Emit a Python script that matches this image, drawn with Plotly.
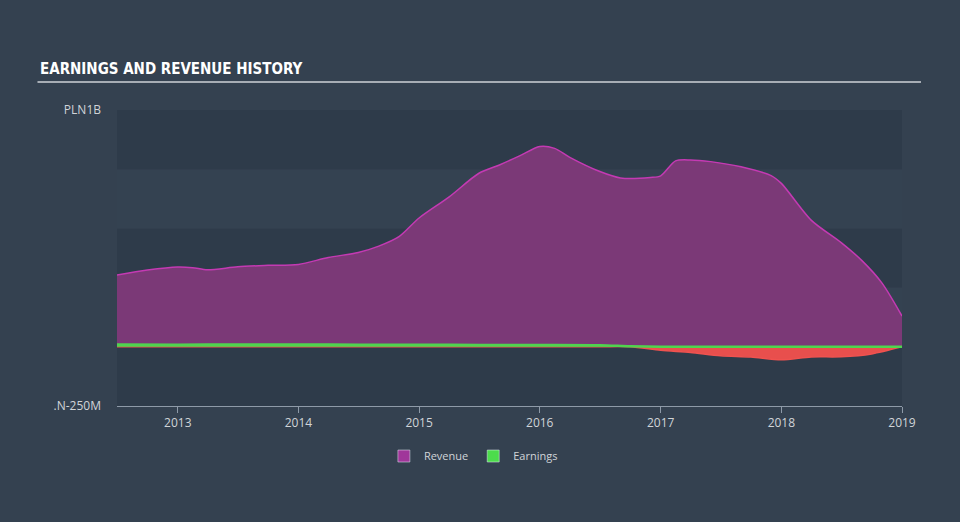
import plotly.graph_objects as go

# Revenue (PLN millions)
rev_dates = ["2012-07-01","2012-10-01","2013-01-01","2013-02-15","2013-04-01","2013-07-01",
             "2013-10-01","2014-01-01","2014-04-01","2014-07-01","2014-09-01","2014-11-01",
             "2015-01-01","2015-04-01","2015-07-01","2015-09-01","2015-11-01","2016-01-01",
             "2016-02-15","2016-04-01","2016-07-01","2016-09-01","2016-12-01","2017-01-01",
             "2017-02-15","2017-04-01","2017-06-01","2017-09-01","2017-12-01","2018-01-01",
             "2018-04-01","2018-07-01","2018-09-01","2018-11-01","2019-01-01"]
rev_vals = [303, 324, 337, 334, 325, 338, 344, 348, 377, 398, 425, 465,
            544, 632, 733, 768, 806, 846, 838, 800, 740, 713, 715, 722,
            785, 789, 782, 760, 723, 690, 535, 440, 365, 270, 130]

# Earnings (PLN millions)
earn_dates = ["2012-07-01","2013-01-01","2013-07-01","2014-01-01","2014-07-01","2015-01-01",
              "2015-07-01","2016-01-01","2016-07-01","2016-10-01","2017-01-01","2017-04-01",
              "2017-07-01","2017-10-01","2018-01-01","2018-04-01","2018-07-01","2018-10-01",
              "2019-01-01"]
earn_vals = [10, 9, 10, 10, 9, 9, 8, 8, 7, 2, -15, -24, -38, -43, -55, -43, -42, -30, 0]

y_ticks = [-250, 1000]
y_labels = [".N-250M", "PLN1B"]
x_ticks = ["2013-01-01","2014-01-01","2015-01-01","2016-01-01","2017-01-01","2018-01-01","2019-01-01"]
x_labels = ["2013","2014","2015","2016","2017","2018","2019"]
band_edges = [-250, 0, 250, 500, 750, 1000]

earn_pos = [max(v, 0) for v in earn_vals]
earn_neg = [min(v, 0) for v in earn_vals]

fig = go.Figure()

fig.add_trace(go.Scatter(x=rev_dates, y=rev_vals, mode="lines", fill="tozeroy",
                         line=dict(color="#c43ab3", width=1.5, shape="spline", smoothing=0.8),
                         fillcolor="#7b3977", showlegend=False, hoverinfo="skip"))
fig.add_trace(go.Scatter(x=earn_dates, y=earn_neg, mode="lines", fill="tozeroy",
                         line=dict(color="#f0524f", width=1.5, shape="spline", smoothing=0.8),
                         fillcolor="#e84f4d", showlegend=False, hoverinfo="skip"))
fig.add_trace(go.Scatter(x=earn_dates, y=earn_pos, mode="lines", fill="tozeroy",
                         line=dict(color="#4fd44f", width=2.5, shape="spline", smoothing=0.8),
                         fillcolor="#4fd44f", showlegend=False, hoverinfo="skip"))

# legend swatches
fig.add_trace(go.Bar(x=[None], y=[None], name="Revenue", marker=dict(color="#a0369a")))
fig.add_trace(go.Bar(x=[None], y=[None], name="Earnings", marker=dict(color="#4cdc4c")))

shapes = []
for i in range(len(band_edges) - 1):
    shapes.append(dict(type="rect", xref="paper", yref="y", x0=0, x1=1,
                       y0=band_edges[i], y1=band_edges[i + 1], layer="below", line=dict(width=0),
                       fillcolor="#2e3b4a" if i % 2 == 0 else "#344251"))
shapes.append(dict(type="line", xref="paper", yref="paper", x0=-0.1013, x1=1.0242,
                   y0=1.0946, y1=1.0946, line=dict(color="#a7adb5", width=2)))

fig.update_layout(
    width=960, height=522,
    margin=dict(l=117, r=58, t=110, b=116),
    paper_bgcolor="#344150", plot_bgcolor="#344150",
    shapes=shapes,
    showlegend=True,
    legend=dict(orientation="h", x=0.34, xanchor="left", y=-0.169, yanchor="middle",
                font=dict(family="Open Sans", size=11, color="#d0d4d8"),
                bgcolor="rgba(0,0,0,0)", itemwidth=30),
    annotations=[dict(text="<b>EARNINGS AND REVENUE HISTORY</b>", xref="paper", yref="paper",
                      x=-0.1008, y=1.14, xanchor="left", yanchor="middle", showarrow=False,
                      font=dict(family="Liberation Sans Narrow, DejaVu Sans Condensed", size=15,
                                color="#ffffff"))],
    xaxis=dict(type="date", range=["2012-07-01", "2019-01-01"], tickvals=x_ticks, ticktext=x_labels,
               showgrid=False, zeroline=False, showline=True, linecolor="#8e9aa8", linewidth=1,
               ticks="outside", ticklen=6, tickcolor="#8e9aa8",
               tickfont=dict(family="Open Sans", size=12, color="#d0d4d8")),
    yaxis=dict(range=[-250, 1000], tickvals=y_ticks, ticktext=y_labels, showgrid=False,
               zeroline=False, showline=False, ticks="", ticklabelstandoff=15,
               tickfont=dict(family="Open Sans", size=12, color="#d0d4d8")),
)

fig.write_html("out.html")
